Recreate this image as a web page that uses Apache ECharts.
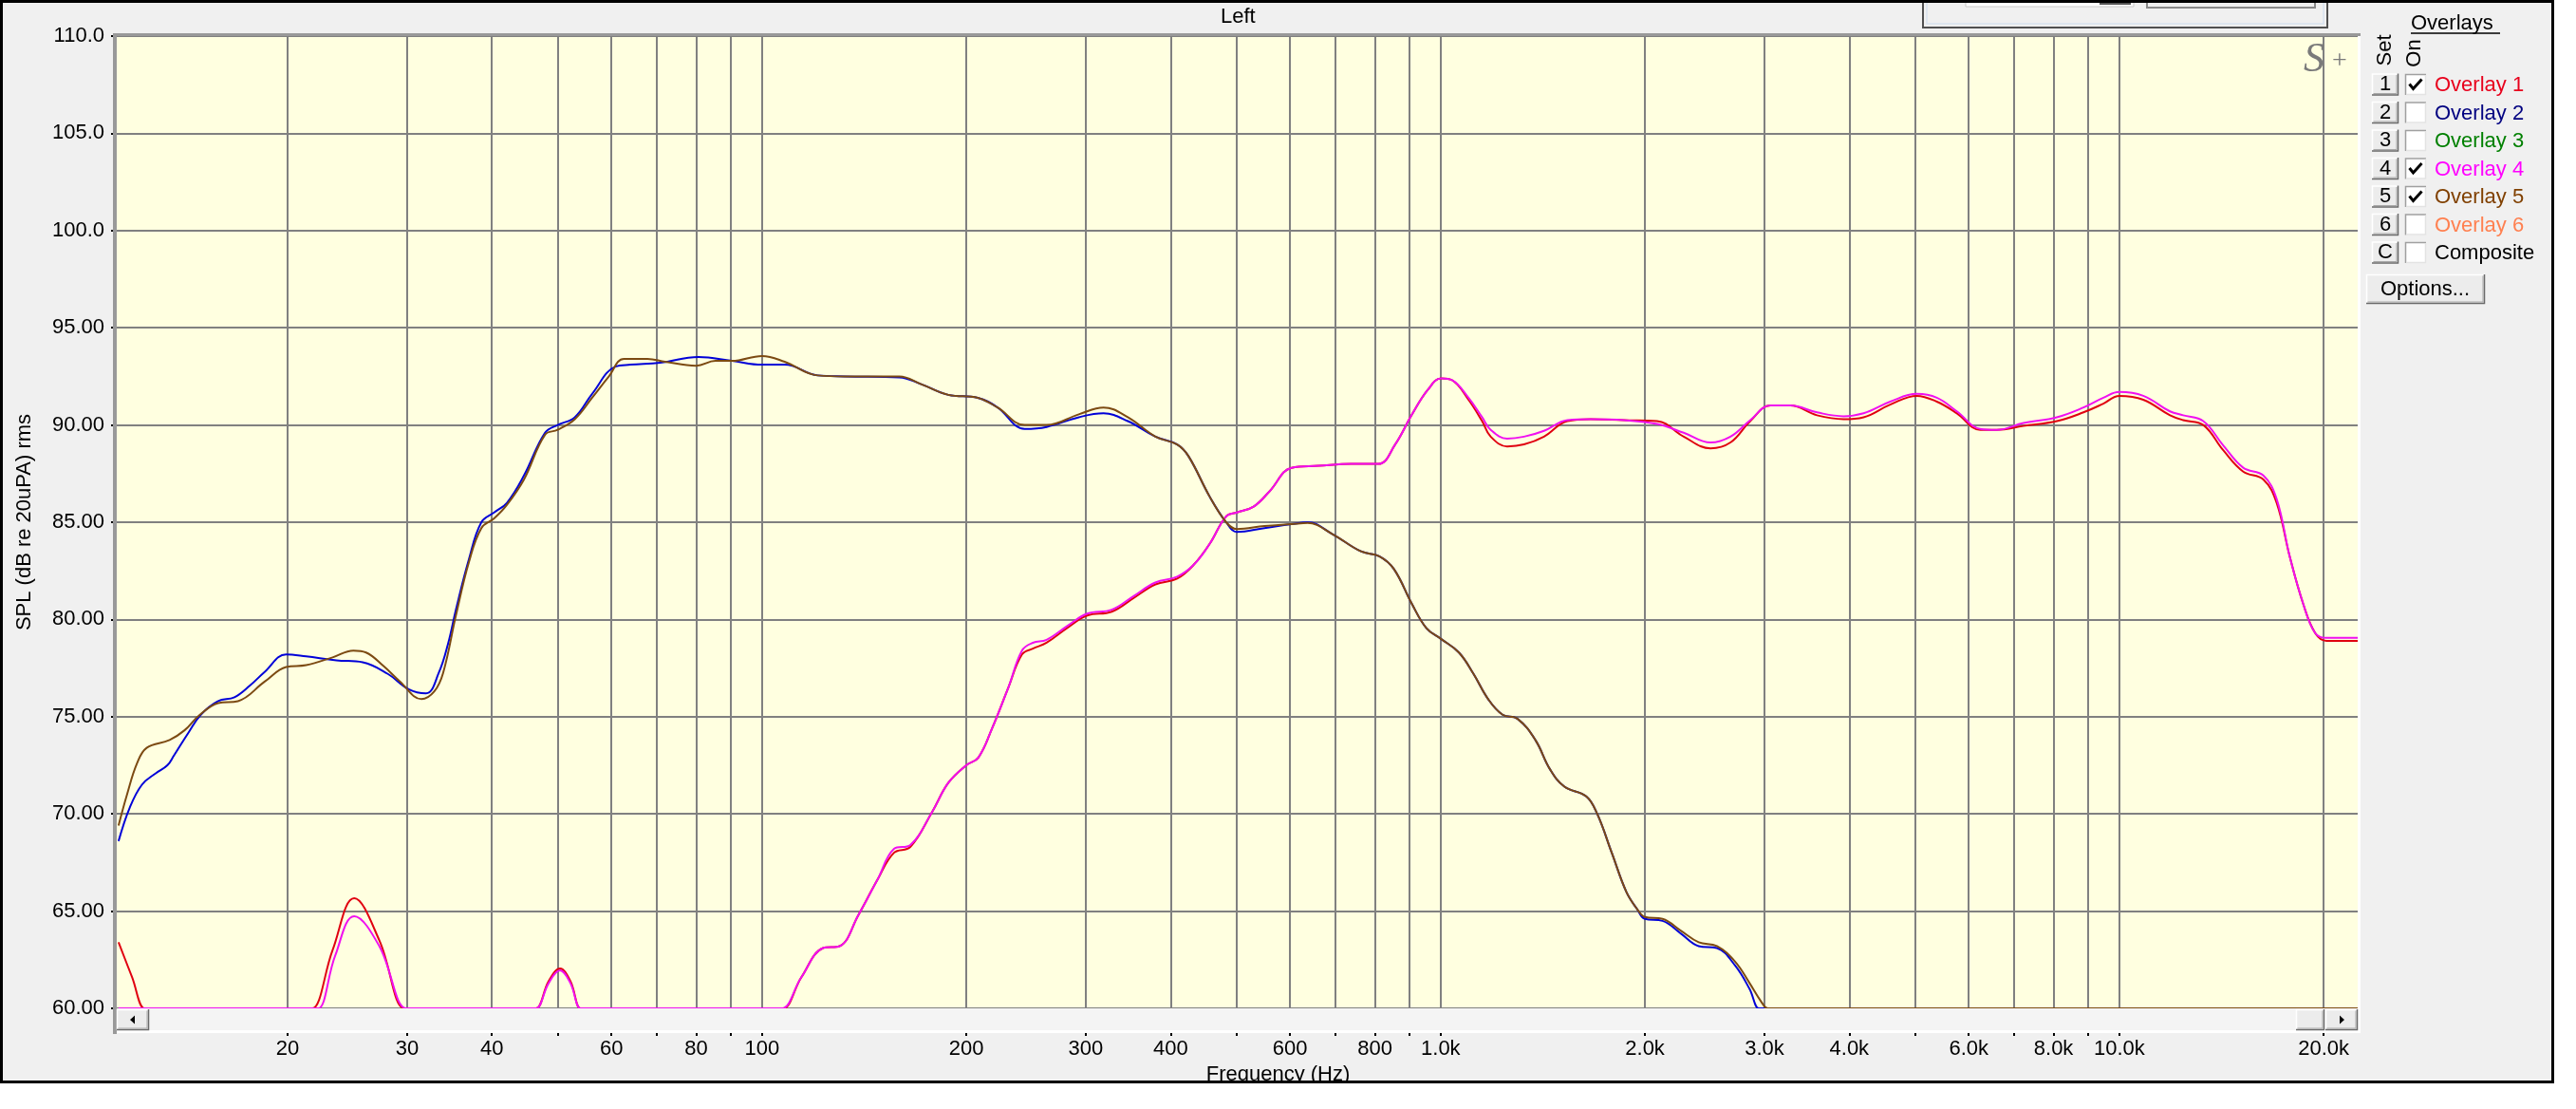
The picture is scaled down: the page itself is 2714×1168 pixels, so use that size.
<!DOCTYPE html>
<html><head><meta charset="utf-8">
<script src="https://cdn.jsdelivr.net/npm/echarts@6/dist/echarts.min.js"></script>
<style>html,body{margin:0;padding:0;background:#fff;}#c{width:2714px;height:1168px;}</style>
</head><body><div id="c"></div>
<script>
// ---- axis definitions ----
const freqRange = [11.13, 22450];
const splRange = [60, 110];
const splStep = 5;
const gridFreqs = [20,30,40,50,60,70,80,90,100,200,300,400,500,600,700,800,900,1000,2000,3000,4000,5000,6000,7000,8000,9000,10000,20000];
const labelFreqs = [20,30,40,60,80,100,200,300,400,600,800,1000,2000,3000,4000,6000,8000,10000,20000];
const labelTexts = ['20','30','40','60','80','100','200','300','400','600','800','1.0k','2.0k','3.0k','4.0k','6.0k','8.0k','10.0k','20.0k'];

// ---- overlay panel ----
const overlayKeys = ['1','2','3','4','5','6','C'];
const overlayNames = ['Overlay 1','Overlay 2','Overlay 3','Overlay 4','Overlay 5','Overlay 6','Composite'];
const overlayColors = ['#e8001c','#000080','#008000','#ff00ff','#804000','#ff8050','#000000'];
const overlayOn = [true,false,false,true,true,false,false];

// ---- curves [Hz, dB] ----
const blueCurve = [[11.27,68.6],[11.7,70.3],[12.2,71.5],[12.8,72.1],[13.3,72.5],[13.6,73.0],[14.3,74.2],[14.9,75.1],[15.8,75.8],[16.7,76.0],[17.6,76.6],[18.5,77.3],[19.9,78.2],[21.3,78.1],[23.6,77.9],[25.8,77.8],[28.1,77.2],[30.2,76.4],[32.0,76.2],[33.4,77.25],[34.5,78.8],[35.4,80.5],[37.0,83.1],[38.6,85.0],[40.3,85.5],[42.1,86.0],[44.6,87.4],[47.9,89.6],[50.0,90.0],[53.0,90.4],[56.2,91.6],[60.8,93.0],[64.0,93.1],[70.8,93.2],[80.6,93.5],[90.3,93.3],[100,93.1],[108,93.1],[120.8,92.55],[132.5,92.5],[159.4,92.45],[171.6,92.1],[188.2,91.55],[208,91.4],[222.4,90.9],[243.8,89.8],[262.6,89.9],[293,90.4],[318.6,90.6],[346,90.2],[380,89.4],[409,89.0],[425,88.4],[457,86.3],[483,85.0],[501,84.5],[550,84.7],[603,84.9],[637,85.0],[692,84.4],[763,83.5],[812,83.25],[853,82.6],[907,80.8],[953,79.55],[1001,79.0],[1064,78.3],[1118,77.2],[1175,75.9],[1234,75.1],[1297,74.9],[1379,73.8],[1449,72.3],[1522,71.4],[1639,70.9],[1701,70.0],[1787,68.0],[1877,66.0],[1948,65.1],[2000,64.6],[2123,64.5],[2258,63.85],[2400,63.2],[2553,63.1],[2716,62.2],[2852,61.0],[2943,60.0],[2975,60.0],[22450,60.0]];

const brownCurve = [[11.27,69.4],[11.6,71.0],[12.0,72.6],[12.4,73.4],[13.4,73.8],[14.1,74.3],[14.8,75.05],[15.8,75.7],[16.9,75.8],[18.5,76.8],[19.9,77.55],[21.3,77.65],[23.3,78.05],[25.0,78.4],[26.1,78.3],[27.7,77.6],[29.3,76.8],[31.5,75.9],[32.9,76.3],[33.9,77.25],[35.4,80.2],[37.0,82.95],[38.6,84.7],[40.3,85.2],[42.1,85.9],[44.6,87.2],[47.9,89.5],[50.0,89.75],[53.0,90.3],[56.2,91.4],[59.5,92.5],[62.6,93.4],[67.8,93.4],[72,93.25],[80,93.05],[85.4,93.3],[90.3,93.3],[100,93.55],[108,93.25],[120.8,92.55],[132.5,92.5],[159.4,92.5],[171.6,92.1],[188.2,91.55],[208,91.4],[222.4,90.9],[243.8,90.0],[262.6,90.0],[293,90.55],[318.6,90.9],[346,90.4],[380,89.4],[409,89.0],[425,88.4],[457,86.3],[483,85.0],[501,84.65],[550,84.8],[603,84.9],[637,84.96],[692,84.4],[763,83.5],[812,83.25],[853,82.6],[907,80.8],[953,79.55],[1001,79.0],[1064,78.3],[1118,77.2],[1175,75.9],[1234,75.1],[1297,74.9],[1379,73.8],[1449,72.3],[1522,71.4],[1639,70.9],[1701,70.0],[1787,68.0],[1877,66.0],[1948,65.1],[2000,64.7],[2123,64.6],[2258,64.0],[2400,63.4],[2553,63.2],[2716,62.4],[2852,61.3],[2960,60.4],[3034,60.0],[3065,60.0],[22450,60.0]];

const redCurve = [[11.27,63.4],[11.8,61.6],[12.3,60.0],[12.42,60.0],[21.5,60.0],[21.75,60.0],[23.3,63.0],[25.07,65.66],[27.3,63.5],[29.7,60.0],[30.0,60.0],[46.0,60.0],[46.5,60.0],[48.5,61.4],[50.4,62.05],[52.2,61.4],[54.0,60.0],[54.5,60.0],[106.4,60.0],[107.5,60.0],[114.3,61.6],[123,63.1],[130.1,63.2],[138.7,64.8],[147.9,66.6],[156.5,68.0],[165.4,68.3],[178.1,70.1],[188.2,71.6],[200,72.5],[208.4,72.9],[218.3,74.4],[230.7,76.5],[241.6,78.2],[250.7,78.5],[262.6,78.8],[282.6,79.6],[301.5,80.2],[327.6,80.4],[352.8,81.1],[379.9,81.8],[409,82.1],[432.4,82.8],[457,83.9],[483,85.3],[501,85.5],[530,85.8],[560,86.6],[603,87.8],[661,87.9],[739,88.0],[810,88.0],[857,89.0],[906,90.5],[957,91.8],[1002,92.4],[1040,92.3],[1099,91.3],[1151,90.2],[1185,89.4],[1253,88.9],[1327,89.0],[1420,89.4],[1537,90.2],[1663,90.3],[1862,90.25],[2084,90.2],[2281,89.4],[2498,88.8],[2673,89.1],[2859,90.2],[3061,91.0],[3275,91.0],[3585,90.5],[3924,90.3],[4199,90.4],[4597,91.05],[5031,91.5],[5383,91.2],[5763,90.6],[6237,89.75],[6598,89.75],[7223,89.95],[8090,90.2],[8855,90.65],[9474,91.1],[10000,91.5],[10846,91.3],[11875,90.5],[12418,90.25],[13295,90.0],[14226,88.7],[15226,87.6],[16300,87.2],[17050,86.0],[17837,83.2],[18661,80.8],[19435,79.3],[20190,78.9],[20400,78.9],[22450,78.9]];

const magentaCurve = [[11.27,60.0],[21.95,60.0],[22.2,60.0],[23.5,62.7],[25.07,64.74],[27.3,63.2],[29.9,60.0],[30.2,60.0],[46.0,60.0],[46.5,60.0],[48.5,61.3],[50.4,61.95],[52.2,61.3],[54.0,60.0],[54.5,60.0],[106.0,60.0],[107.1,60.0],[114.3,61.6],[123,63.1],[130.1,63.2],[138.7,64.8],[147.9,66.6],[156.5,68.2],[165.4,68.4],[178.1,70.1],[188.2,71.6],[200,72.5],[208.4,72.9],[218.3,74.4],[230.7,76.5],[241.6,78.4],[250.7,78.8],[262.6,78.95],[282.6,79.7],[301.5,80.3],[327.6,80.5],[352.8,81.2],[379.9,81.9],[409,82.2],[432.4,82.8],[457,83.9],[483,85.3],[501,85.5],[530,85.8],[560,86.6],[603,87.8],[661,87.9],[739,88.0],[810,88.0],[857,89.0],[906,90.5],[957,91.8],[1002,92.4],[1040,92.3],[1099,91.4],[1151,90.4],[1185,89.75],[1253,89.3],[1327,89.4],[1420,89.7],[1537,90.25],[1663,90.3],[1862,90.25],[2084,90.05],[2281,89.6],[2498,89.1],[2673,89.4],[2859,90.25],[3061,91.0],[3275,91.0],[3585,90.65],[3924,90.45],[4199,90.6],[4597,91.2],[5031,91.6],[5383,91.4],[5763,90.7],[6237,89.8],[6598,89.75],[7223,90.1],[8090,90.4],[8855,90.9],[9474,91.4],[10000,91.7],[10846,91.5],[11875,90.7],[12418,90.5],[13295,90.2],[14226,88.95],[15226,87.8],[16300,87.4],[17050,86.2],[17837,83.2],[18661,80.8],[19435,79.3],[20190,79.05],[20400,79.05],[22450,79.05]];

const FONT = 'Liberation Sans, Arial, sans-serif';

function txt(x, y, s, opt) {
  opt = opt || {};
  return {
    type: 'text', x: x, y: y, rotation: opt.rotation || 0, z: 100,
    style: {
      text: s, fill: opt.color || '#000', font: (opt.style || '') + ' ' + (opt.size || 22) + 'px ' + (opt.family || FONT),
      align: opt.align || 'left', textAlign: opt.align || 'left',
      verticalAlign: 'middle', textVerticalAlign: 'middle'
    }
  };
}
function rect(x, y, w, h, fill, stroke, lw, z) {
  return { type: 'rect', z: z == null ? 90 : z, shape: { x: x, y: y, width: w, height: h },
    style: { fill: fill || 'none', stroke: stroke || 'none', lineWidth: lw || 0 } };
}
function pline(points, stroke, lw, z) {
  return { type: 'polyline', z: z == null ? 95 : z, shape: { points: points }, style: { stroke: stroke, lineWidth: lw, fill: 'none' } };
}
function raised(x, y, w, h) {
  return [
    rect(x, y, w, h, '#ececec', null, 0),
    pline([[x + 0.5, y + h], [x + 0.5, y + 0.5], [x + w, y + 0.5]], '#ffffff', 1.5),
    pline([[x, y + h - 0.5], [x + w - 0.5, y + h - 0.5], [x + w - 0.5, y]], '#6a6a6a', 1.5),
    pline([[x + 1.5, y + h - 2], [x + w - 2, y + h - 2], [x + w - 2, y + 1.5]], '#a8a8a8', 1)
  ];
}

const gfx = [];
// outside white, frame
gfx.push(rect(2690, 0, 30, 1168, '#ffffff', null, 0, 80));
gfx.push(rect(0, 1140, 2714, 30, '#ffffff', null, 0, 80));
gfx.push(rect(1.5, 1.5, 2688, 1138, null, '#000000', 3, 120));
// plot borders
gfx.push(rect(119, 35, 2368, 3, '#999999', null, 0, 95));
gfx.push(rect(119, 35, 4, 1054, '#999999', null, 0, 95));
gfx.push(rect(2484, 38, 3, 1050, '#ffffff', null, 0, 95));
// scrollbar
gfx.push(rect(123, 1062, 2364, 23, '#f4f4f4', null, 0, 85));
gfx.push(rect(123, 1085, 2364, 3, '#ffffff', null, 0, 85));
raised(123, 1063, 34, 22).forEach(e => gfx.push(e));
raised(2419, 1063, 30, 22).forEach(e => gfx.push(e));
raised(2450, 1063, 34, 22).forEach(e => gfx.push(e));
gfx.push({ type: 'polygon', z: 100, shape: { points: [[137, 1074], [142, 1069.5], [142, 1078.5]] }, style: { fill: '#000' } });
gfx.push({ type: 'polygon', z: 100, shape: { points: [[2470, 1074], [2465, 1069.5], [2465, 1078.5]] }, style: { fill: '#000' } });
// watermark S+
gfx.push(txt(2438, 63, 'S', { size: 44, style: 'italic', family: 'Liberation Serif, serif', color: '#7a7a7a', align: 'center' }));
gfx.push(txt(2465, 65, '+', { size: 28, family: 'Liberation Serif, serif', color: '#7a7a7a', align: 'center' }));
// top-right partial control
gfx.push(rect(2026, -4, 426, 33, '#f0f0f0', '#505050', 2, 90));
gfx.push(rect(2030, -4, 418, 29, null, '#d8e2ee', 1.5, 91));
gfx.push(rect(2071, -4, 177, 11, '#ffffff', '#c8c8c8', 1, 92));
gfx.push(rect(2212, -4, 33, 9, '#555555', null, 0, 93));
gfx.push(rect(2262, -4, 177, 12, '#f0f0f0', '#8a8a8a', 2, 92));
// overlay panel
gfx.push(txt(2540, 25, 'Overlays', { size: 22 }));
gfx.push(pline([[2540, 35], [2634, 35]], '#000', 1.5, 100));
gfx.push(txt(2513, 53, 'Set', { size: 22, align: 'center', rotation: Math.PI / 2 }));
gfx.push(txt(2544, 56, 'On', { size: 22, align: 'center', rotation: Math.PI / 2 }));
overlayNames.forEach(function (name, i) {
  const yc = 89 + i * 29.5;
  raised(2499, yc - 11.5, 28, 23).forEach(e => gfx.push(e));
  gfx.push(txt(2513, yc, overlayKeys[i], { size: 22, align: 'center' }));
  gfx.push(rect(2534, yc - 11, 22, 22, '#ffffff', null, 0, 92));
  gfx.push(pline([[2534.5, yc + 11], [2534.5, yc - 10.5], [2556, yc - 10.5]], '#a0a0a0', 1.5, 95));
  gfx.push(pline([[2535, yc + 10.5], [2555.5, yc + 10.5], [2555.5, yc - 10]], '#e3e3e3', 1.5, 95));
  if (overlayOn[i]) gfx.push(pline([[2538.5, yc - 0.5], [2542.5, yc + 4.5], [2551.5, yc - 5.5]], '#000', 3, 100));
  gfx.push(txt(2565, yc + 1, name, { size: 22, color: overlayColors[i] }));
});
raised(2493, 289, 125, 31).forEach(e => gfx.push(e));
gfx.push(txt(2555, 305, 'Options...', { size: 22, align: 'center' }));

function lineSeries(name, data, color) {
  return {
    name: name, type: 'line', data: data, showSymbol: false, symbol: 'none',
    smooth: 0.4, clip: true,
    lineStyle: { color: color, width: 2 }, itemStyle: { color: color }, emphasis: { disabled: true }, silent: true
  };
}

const chart = echarts.init(document.getElementById('c'), null, { renderer: 'canvas' });
chart.setOption({
  backgroundColor: '#f0f0f0',
  animation: false,
  textStyle: { fontFamily: FONT },
  title: { text: 'Left', left: 1286, top: 7, padding: 0,
    textStyle: { fontSize: 22, fontWeight: 'normal', color: '#000', fontFamily: FONT } },
  grid: { left: 121, top: 38, width: 2363, height: 1024, show: true, backgroundColor: '#ffffe0', borderWidth: 0, containLabel: false },
  xAxis: {
    type: 'log', min: freqRange[0], max: freqRange[1], logBase: 10, offset: 23,
    name: 'Frequency (Hz)', nameLocation: 'middle', nameGap: 31,
    nameTextStyle: { fontSize: 22, color: '#000', fontFamily: FONT, padding: [0, 0, 0, 88] },
    axisLine: { show: false },
    axisTick: { show: true, customValues: gridFreqs, length: 6, lineStyle: { color: '#000', width: 2 } },
    axisLabel: { show: true, customValues: labelFreqs, margin: 9, fontSize: 22, color: '#000', fontFamily: FONT,
      formatter: function (v) { const i = labelFreqs.indexOf(Math.round(v)); return i >= 0 ? labelTexts[i] : ''; } },
    splitLine: { show: true, lineStyle: { color: '#808080', width: 2 } },
    minorTick: { show: false }, minorSplitLine: { show: false }
  },
  yAxis: {
    type: 'value', min: splRange[0], max: splRange[1], interval: splStep,
    name: 'SPL (dB re 20uPA) rms', nameLocation: 'middle', nameRotate: 90, nameGap: 84,
    nameTextStyle: { fontSize: 22, color: '#000', fontFamily: FONT },
    axisLine: { show: false },
    axisTick: { show: true, length: 4, lineStyle: { color: '#000', width: 2 } },
    axisLabel: { margin: 11, fontSize: 22, color: '#000', fontFamily: FONT,
      formatter: function (v) { return v >= 100 ? v.toFixed(1) : v.toFixed(2); } },
    splitLine: { show: true, lineStyle: { color: '#808080', width: 2 } }
  },
  series: [
    lineSeries('blue', blueCurve, '#0000d8'),
    lineSeries('Overlay 1', redCurve, '#e00010'),
    lineSeries('Overlay 4', magentaCurve, '#f010f0'),
    lineSeries('Overlay 5', brownCurve, '#7c4a12')
  ],
  graphic: { elements: gfx }
});
</script></body></html>
